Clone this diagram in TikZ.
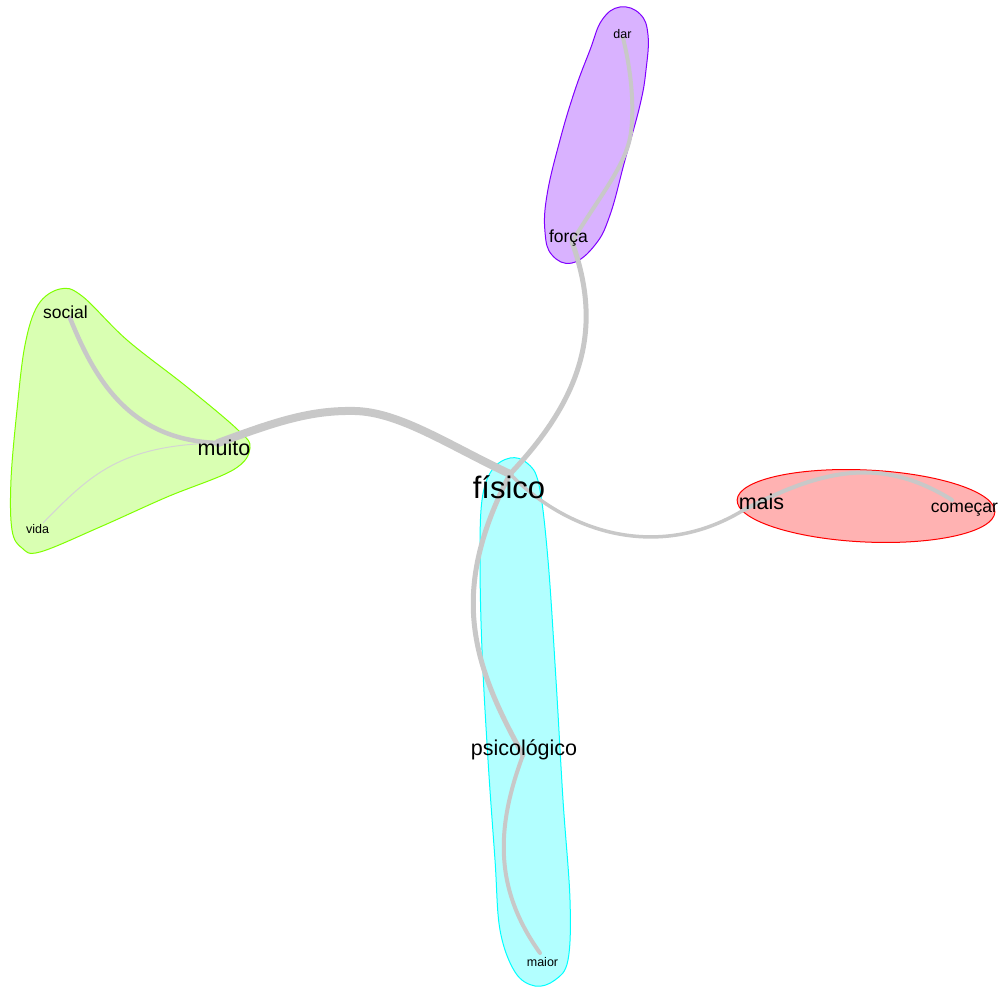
\documentclass[tikz,border=0pt]{standalone}
\usepackage{fontspec}
\setmainfont{Liberation Sans}
\definecolor{edgegray}{RGB}{200,200,200}
\definecolor{thingray}{RGB}{212,212,212}
\definecolor{redfill}{RGB}{255,178,178}
\definecolor{redline}{RGB}{255,0,0}
\definecolor{greenfill}{RGB}{217,255,178}
\definecolor{greenline}{RGB}{128,255,0}
\definecolor{cyanfill}{RGB}{178,255,255}
\definecolor{cyanline}{RGB}{0,255,255}
\definecolor{purplefill}{RGB}{217,178,255}
\definecolor{purpleline}{RGB}{128,0,255}
\begin{document}
\begin{tikzpicture}[x=1pt,y=-1pt,
  edge/.style={draw=edgegray,line cap=round,line join=round},
  blob/.style={line width=1pt},
  lab/.style={inner sep=0pt,anchor=base,text=black},
  big/.style={lab,font=\fontsize{31}{31}\selectfont},
  mid/.style={lab,font=\fontsize{21.5}{21.5}\selectfont},
  sml/.style={lab,font=\fontsize{17.5}{17.5}\selectfont},
  tiny/.style={lab,font=\fontsize{12.5}{12.5}\selectfont}]
\useasboundingbox (0,0) rectangle (1001,987);
\fill[white] (0,0) rectangle (1001,987);

% group blobs
\draw[blob,draw=purpleline,fill=purplefill] plot[smooth cycle,tension=0.7] coordinates
  {(620,7) (640,14) (648,35) (646,70) (640,105) (625,160) (610,215) (595,245) (572,263) (552,255) (545,232) (547,195) (560,140) (575,90) (590,50) (602,20)};
\draw[blob,draw=greenline,fill=greenfill] plot[smooth cycle,tension=0.6] coordinates
  {(60,289) (38,305) (25,345) (17,410) (11,480) (12,530) (22,548) (40,552) (100,527) (167,497) (233,470) (250,448) (238,430) (187,387) (127,340) (82,296)};
\draw[blob,draw=redline,fill=redfill,rotate around={-2.7:(866,506)}] (866,506) ellipse [x radius=129, y radius=36];
\draw[blob,draw=cyanline,fill=cyanfill] plot[smooth cycle,tension=0.6] coordinates
  {(510,458) (527,463) (539,485) (548,560) (556,680) (563,800) (570,900) (568,960) (555,980) (535,986) (515,972) (500,930) (495,860) (488,760) (482,650) (480,560) (482,500) (492,470)};

% vertices
\coordinate (fisico) at (510,474);
\coordinate (muito) at (218,443);
\coordinate (social) at (70,318);
\coordinate (vida) at (43,523);
\coordinate (forca) at (572,242);
\coordinate (dar) at (623,38);
\coordinate (mais) at (742,511);
\coordinate (comecar) at (952,500);
\coordinate (psico) at (523,755);
\coordinate (maior) at (540,953);

% edges
\draw[edge,line width=8pt] (muito) .. controls (275,422) and (310,410) .. (355,411) .. controls (400,412) and (450,446) .. (fisico);
\draw[edge,line width=4.5pt] (muito) .. controls (130,440) and (95,380) .. (social);
\draw[draw=thingray,line width=1pt] (muito) .. controls (120,445) and (90,475) .. (vida);
\draw[edge,line width=5pt] (fisico) .. controls (590,390) and (600,320) .. (forca);
\draw[edge,line width=4pt] (forca) .. controls (598,198) and (627,165) .. (631,132) .. controls (635,98) and (629,62) .. (dar);
\draw[edge,line width=3.5pt] (fisico) .. controls (570,535) and (660,560) .. (mais);
\draw[edge,line width=4pt] (mais) .. controls (820,470) and (880,455) .. (comecar);
\draw[edge,line width=5pt] (fisico) .. controls (450,590) and (470,660) .. (psico);
\draw[edge,line width=4pt] (psico) .. controls (495,830) and (495,890) .. (maior);

% labels
\node[big] (fisicoL) at (509,498) {físico};
\node[mid] (muitoL) at (224,455) {muito};
\node[sml] (socialL) at (65.5,318) {social};
\node[tiny] (vidaL) at (37.5,533) {vida};
\node[sml] (forcaL) at (568.5,242) {força};
\node[tiny] (darL) at (622.5,39) {dar};
\node[mid] (maisL) at (761.5,509) {mais};
\node[sml] (comecarL) at (964.5,512) {começar};
\node[mid] (psicoL) at (524,755) {psicológico};
\node[tiny] (maiorL) at (542.5,966) {maior};
\end{tikzpicture}
\end{document}
